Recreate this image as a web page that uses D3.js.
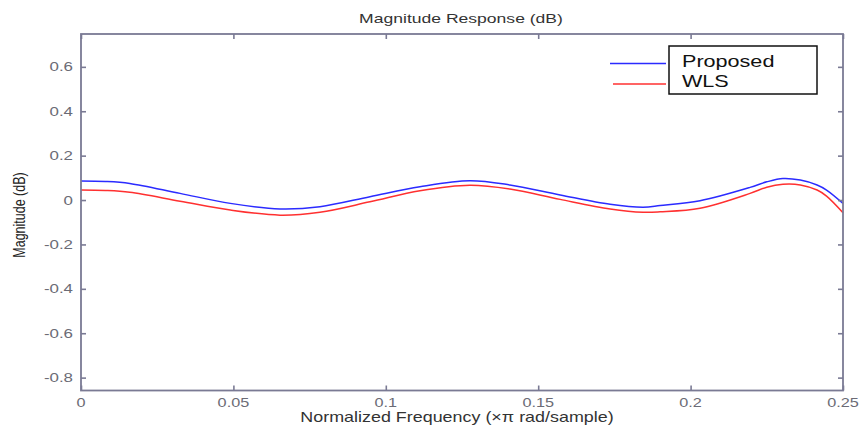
<!DOCTYPE html>
<html><head><meta charset="utf-8">
<script src="https://cdn.jsdelivr.net/npm/d3@7"></script>
<style>body{margin:0;background:#fff}svg{display:block}text{font-family:"Liberation Sans",Arial,sans-serif}</style>
</head><body><svg id="c" width="863" height="434"></svg>
<script>
const freqP = [0,0.008,0.016,0.0325,0.049,0.0653,0.0784,0.0948,0.1112,0.1276,0.1407,0.1572,0.1736,0.1844,0.19,0.2031,0.2195,0.225,0.2303,0.236,0.2415,0.2446,0.25];
const proposed = [0.086,0.084,0.075,0.03,-0.015,-0.04,-0.03,0.015,0.06,0.087,0.068,0.023,-0.019,-0.032,-0.025,-0.003,0.057,0.082,0.097,0.09,0.068,0.045,-0.015];
const wls = [0.045,0.043,0.035,-0.005,-0.045,-0.068,-0.055,-0.008,0.042,0.067,0.05,0.003,-0.04,-0.055,-0.053,-0.037,0.03,0.058,0.071,0.068,0.045,0.018,-0.057];
const xTicks = [0,0.05,0.1,0.15,0.2,0.25];
const yTicks = [-0.8,-0.6,-0.4,-0.2,0,0.2,0.4,0.6];
const seriesNames = ["Proposed","WLS"];
const colors = ["#2b2bff","#ff3030"];

const svg = d3.select("#c");
const L=81,R=843,T=34,B=390.5;
const SX=1.3; // horizontal stretch of the reference's text
const x = d3.scaleLinear().domain([0,0.25]).range([L,R]);
const y = d3.scaleLinear().domain([-0.858,0.748]).range([B,T]);
const axisCol = "#7a7a94";

const line = d3.line().x((d,i)=>x(freqP[i])).y(d=>y(d)).curve(d3.curveCatmullRom.alpha(0.5));
[proposed,wls].forEach((s,k)=>{
  svg.append("path").attr("d",line(s)).attr("fill","none").attr("stroke",colors[k]).attr("stroke-width",1.5);
});

svg.append("rect").attr("x",L).attr("y",T).attr("width",R-L).attr("height",B-T).attr("fill","none").attr("stroke",axisCol).attr("stroke-width",1.8);

const fmt = v => v===0 ? "0" : String(+v.toFixed(2));
const gx = svg.append("g").attr("transform",`translate(0,${B})`).call(d3.axisBottom(x).tickValues(xTicks).tickSize(-5).tickFormat(""));
const gxt = svg.append("g").attr("transform",`translate(0,${T})`).call(d3.axisTop(x).tickValues(xTicks).tickSize(-5).tickFormat(""));
const gy = svg.append("g").attr("transform",`translate(${L},0)`).call(d3.axisLeft(y).tickValues(yTicks).tickSize(-5).tickFormat(""));
const gyr = svg.append("g").attr("transform",`translate(${R},0)`).call(d3.axisRight(y).tickValues(yTicks).tickSize(-5).tickFormat(""));
[gx,gxt,gy,gyr].forEach(g=>{
  g.select(".domain").remove();
  g.selectAll(".tick line").attr("stroke",axisCol).attr("stroke-width",1.6);
});
// tick labels (stretched horizontally like the reference)
xTicks.forEach(v=>{
  svg.append("text").attr("transform",`translate(${x(v)},407) scale(${SX},1)`).attr("text-anchor","middle")
    .attr("font-size",12.5).attr("fill","#6b6b75").text(fmt(v));
});
yTicks.forEach(v=>{
  svg.append("text").attr("transform",`translate(73,${y(v)+4.5}) scale(${SX},1)`).attr("text-anchor","end")
    .attr("font-size",13).attr("fill","#6b6b75").text(fmt(v));
});

svg.append("text").attr("transform",`translate(461,23) scale(1.35,1)`).attr("text-anchor","middle").attr("font-size",13).attr("fill","#333").text("Magnitude Response (dB)");
svg.append("text").attr("transform",`translate(457,422) scale(1.28,1)`).attr("text-anchor","middle").attr("font-size",14).attr("fill","#333").text("Normalized Frequency (\u00d7\u03c0 rad/sample)");
svg.append("text").attr("transform","translate(25,215) rotate(-90) scale(1,1.3)").attr("text-anchor","middle").attr("font-size",12.5).attr("fill","#222").text("Magnitude (dB)");

// legend
svg.append("rect").attr("x",669).attr("y",46).attr("width",148).attr("height",48).attr("fill","#fff").attr("stroke","#111").attr("stroke-width",1.5);
const legY=[63.5,84];
seriesNames.forEach((n,k)=>{
  svg.append("line").attr("x1",k?613:610).attr("x2",666).attr("y1",legY[k]).attr("y2",legY[k]).attr("stroke",colors[k]).attr("stroke-width",1.6);
  svg.append("text").attr("transform",`translate(682,${k?87:67}) scale(1.27,1)`).attr("font-size",17).attr("fill","#111").text(n);
});
</script></body></html>
